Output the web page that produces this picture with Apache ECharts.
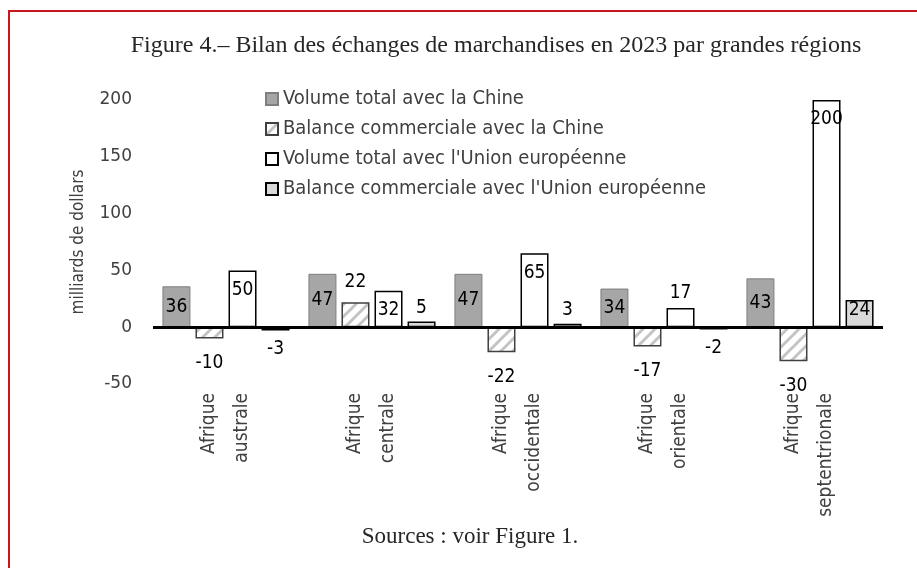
<!DOCTYPE html>
<html>
<head>
<meta charset="utf-8">
<script src="https://cdn.jsdelivr.net/npm/echarts@6/dist/echarts.min.js"></script>
<style>
  html, body { margin: 0; padding: 0; background: #fff; }
  #chart { width: 917px; height: 568px; }
</style>
</head>
<body>
<div id="chart"></div>
<script>
const regions = ["Afrique\naustrale", "Afrique\ncentrale", "Afrique\noccidentale", "Afrique\norientale", "Afrique\nseptentrionale"];
const volChine = [36, 47, 47, 34, 43];
const balChine = [-10, 22, -22, -17, -30];
const volUE = [50, 32, 65, 17, 200];
const balUE = [-3, 5, 3, -2, 24];
const yTicks = [-50, 0, 50, 100, 150, 200];

const narrow = "'DejaVu Sans Condensed', 'Liberation Sans Narrow', sans-serif";
const serif = "'Liberation Serif', 'DejaVu Serif', serif";

// hatch pattern for the China balance bars
const hatch = document.createElement("canvas");
hatch.width = 12;
hatch.height = 12;
const hc = hatch.getContext("2d");
hc.fillStyle = "#fff";
hc.fillRect(0, 0, 12, 12);
hc.strokeStyle = "#c4c4c4";
hc.lineWidth = 3;
hc.beginPath();
hc.moveTo(-2, 14); hc.lineTo(14, -2);
hc.moveTo(-8, 8); hc.lineTo(8, -8);
hc.moveTo(4, 20); hc.lineTo(20, 4);
hc.stroke();

const labelFont = { fontFamily: narrow, fontSize: 19, color: "#000" };

function withLabels(values, pick) {
  return values.map((v) => ({ value: v, label: Object.assign({ show: true }, labelFont, pick(v)) }));
}

const chart = echarts.init(document.getElementById("chart"));
chart.setOption({
  animation: false,
  graphic: [
    {
      type: "rect",
      shape: { x: 9, y: 11, width: 1000, height: 1000 },
      style: { fill: "none", stroke: "#c8161d", lineWidth: 2 },
    },
    {
      type: "text",
      x: 496, y: 46,
      style: {
        text: "Figure 4.– Bilan des échanges de marchandises en 2023 par grandes régions",
        font: "24px " + serif, fill: "#262626", align: "center", verticalAlign: "middle",
      },
    },
    {
      type: "text",
      x: 470, y: 537,
      style: {
        text: "Sources : voir Figure 1.",
        font: "23px " + serif, fill: "#262626", align: "center", verticalAlign: "middle",
      },
    },
  ],
  legend: {
    orient: "vertical",
    left: 260,
    top: 84,
    icon: "rect",
    itemWidth: 12,
    itemHeight: 12,
    itemGap: 10,
    selectedMode: false,
    textStyle: { fontFamily: narrow, fontSize: 20, color: "#404040" },
  },
  grid: { left: 153, right: 34, top: 100, bottom: 184 },
  xAxis: {
    type: "category",
    data: regions,
    axisLine: { show: false },
    axisTick: { show: false },
    axisLabel: {
      interval: 0,
      rotate: 90,
      margin: 9,
      fontFamily: narrow,
      fontSize: 19,
      lineHeight: 33,
      color: "#404040",
    },
  },
  yAxis: {
    type: "value",
    min: yTicks[0],
    max: yTicks[yTicks.length - 1],
    interval: 50,
    name: "milliards de dollars",
    nameLocation: "middle",
    nameGap: 66,
    nameTextStyle: { fontFamily: narrow, fontSize: 17, color: "#404040" },
    axisLine: { show: false },
    axisTick: { show: false },
    splitLine: { show: false },
    axisLabel: { margin: 21, fontFamily: "'DejaVu Sans', sans-serif", fontSize: 17, color: "#404040" },
  },
  series: [
    {
      name: "Volume total avec la Chine",
      type: "bar",
      barWidth: 28,
      barGap: "18%",
      itemStyle: { color: "#a6a6a6", borderColor: "#7f7f7f", borderWidth: 1 },
      data: withLabels(volChine, () => ({ position: "inside" })),
      markLine: {
        silent: true,
        symbol: "none",
        label: { show: false },
        lineStyle: { color: "#000", width: 3, type: "solid" },
        data: [{ yAxis: 0 }],
      },
    },
    {
      name: "Balance commerciale avec la Chine",
      type: "bar",
      barWidth: 28,
      itemStyle: { color: { image: hatch, repeat: "repeat" }, borderColor: "#404040", borderWidth: 1.5 },
      data: withLabels(balChine, (v) => (v >= 0 ? { position: "top", distance: 11 } : { position: "bottom", distance: 15 })),
    },
    {
      name: "Volume total avec l'Union européenne",
      type: "bar",
      barWidth: 28,
      itemStyle: { color: "#fff", borderColor: "#000", borderWidth: 1.5 },
      data: withLabels(volUE, (v) => (v >= 30 ? { position: "insideTop", distance: 10 } : { position: "top", distance: 5 })),
    },
    {
      name: "Balance commerciale avec l'Union européenne",
      type: "bar",
      barWidth: 28,
      itemStyle: { color: "#d9d9d9", borderColor: "#000", borderWidth: 1.5 },
      data: withLabels(balUE, (v) => {
        if (v >= 20) return { position: "insideTop", distance: 1 };
        if (v >= 0) return { position: "top", distance: 4 };
        return { position: "bottom", distance: 9 };
      }),
    },
  ],
});
</script>
</body>
</html>
